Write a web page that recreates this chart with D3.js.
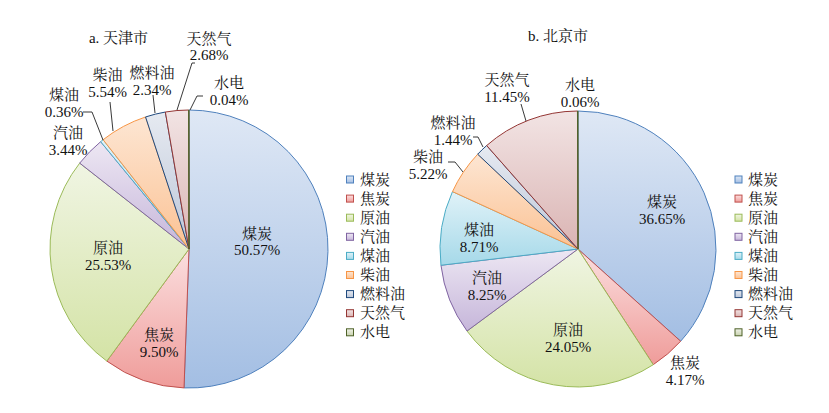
<!DOCTYPE html>
<html><head><meta charset="utf-8">
<script src="https://cdn.jsdelivr.net/npm/d3@7"></script>
<style>
body{margin:0;background:#fff}
text{font-family:"Liberation Serif","Times New Roman","Noto Serif CJK SC","Noto Sans CJK SC",serif;font-size:15px;fill:#111}
</style>
</head><body>
<svg id="c" width="829" height="413"></svg>
<script>
// ---- data ----
const categories = ["煤炭","焦炭","原油","汽油","煤油","柴油","燃料油","天然气","水电"];
const tianjinValues = [50.57, 9.50, 25.53, 3.44, 0.36, 5.54, 2.34, 2.68, 0.04];
const beijingValues = [36.65, 4.17, 24.05, 8.25, 8.71, 5.22, 1.44, 11.45, 0.06];
const panelTitles = ["a. 天津市", "b. 北京市"];

// ---- styles ----
const strokeColors = ["#4F81BD","#C0504D","#9BBB59","#8064A2","#4BACC6","#F79646","#1F497D","#943634","#4F6228"];
const gradTop      = ["#dfe8f5","#fbdfdf","#f0f5e3","#ede7f3","#e0f2f8","#fde6d3","#e6eaf1","#f2e4e4","#eff1e8"];
const gradBottom   = ["#a3bee3","#ef9c9a","#d4e3a6","#c6b6da","#a6d9e9","#fbc294","#bcc6d8","#dab4b3","#c8d2ae"];

// ---- layout ----
const panels = [
  { title: panelTitles[0], values: tianjinValues, cx: 189, cy: 249, r: 139,
    titlePos: [118.5, 38], legendX: 346.5, textX: 360,
    labels: [[68,-15.5],[-30,86],[-81,-1],[-121,-116],[-125,-154],[-81.5,-174],[-37,-176],[20,-210.5],[40,-166]],
    leaders: { 4: [[-106,-137],[-97,-137],[-86,-109]],
               5: [[-79,-147],[-76,-118]],
               6: [[-36,-154],[-34,-136]],
               7: [[6,-186],[3,-186],[-12,-139]],
               8: [[14,-153],[8,-153],[1,-139]] } },
  { title: panelTitles[1], values: beijingValues, cx: 578, cy: 249, r: 138,
    titlePos: [558, 36], legendX: 735, textX: 748,
    labels: [[84,-47],[107,114],[-10,81],[-91,29],[-99,-19],[-150,-92],[-125,-126],[-71,-169],[2,-164]],
    leaders: { 5: [[-130,-87],[-123,-87],[-115,-77]],
               6: [[-105,-112],[-100,-112],[-95,-102]],
               7: [[-57,-145],[-52,-128]] } }
];

const svg = d3.select("#c");
const defs = svg.append("defs");
categories.forEach((c, i) => {
  const g = defs.append("linearGradient").attr("id", "g" + i)
    .attr("x1", 0).attr("y1", 0).attr("x2", 0).attr("y2", 1);
  g.append("stop").attr("offset", "0%").attr("stop-color", gradTop[i]);
  g.append("stop").attr("offset", "100%").attr("stop-color", gradBottom[i]);
});

const pie = d3.pie().sort(null).value(d => d);
const fmt = v => d3.format(".2f")(v) + "%";
const lineGap = 16.5;

panels.forEach(p => {
  const g = svg.append("g").attr("transform", `translate(${p.cx},${p.cy})`);
  const arc = d3.arc().innerRadius(0).outerRadius(p.r);
  const arcs = pie(p.values);
  g.selectAll("path.slice").data(arcs).join("path")
    .attr("class", "slice")
    .attr("d", arc)
    .attr("fill", (d, i) => `url(#g${i})`)
    .attr("stroke", (d, i) => strokeColors[i])
    .attr("stroke-width", 1)
    .attr("stroke-linejoin", "round");

  // leader lines
  const line = d3.line();
  Object.entries(p.leaders).forEach(([k, pts]) => {
    g.append("path").attr("d", line(pts)).attr("fill", "none")
      .attr("stroke", "#222").attr("stroke-width", 0.9);
  });

  // labels
  arcs.forEach((d, i) => {
    const [lx, ly] = p.labels[i];
    const t = g.append("text").attr("text-anchor", "middle");
    t.append("tspan").attr("x", lx).attr("y", ly + 5).text(categories[i]);
    t.append("tspan").attr("x", lx).attr("y", ly + lineGap + 5).text(fmt(d.data));
  });

  // title
  svg.append("text").attr("x", p.titlePos[0]).attr("y", p.titlePos[1] + 5)
    .attr("text-anchor", "middle").text(p.title);

  // legend
  const ly = d3.scalePoint().domain(categories).range([179.5, 332.3]);
  const lg = svg.append("g");
  categories.forEach((c, i) => {
    lg.append("rect").attr("x", p.legendX).attr("y", ly(c) - 3.5)
      .attr("width", 7).attr("height", 7)
      .attr("fill", `url(#g${i})`).attr("stroke", strokeColors[i]).attr("stroke-width", 1);
    lg.append("text").attr("x", p.textX).attr("y", ly(c) + 5).text(c);
  });
});
</script>
</body></html>
